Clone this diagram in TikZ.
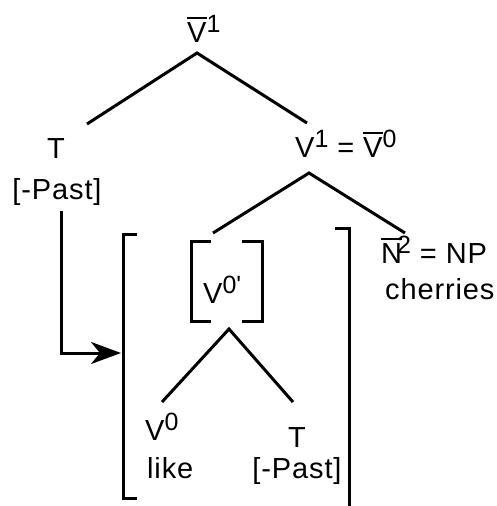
\documentclass[tikz,border=0pt]{standalone}
\usepackage{fontspec}
\setmainfont{Liberation Sans}[LetterSpace=3]
\usetikzlibrary{arrows.meta}
% bar over a category label
\newcommand\barred[1]{\setbox0\hbox{#1}\rlap{\rule[\dimexpr\ht0+3pt\relax]{\wd0}{2.5pt}}\box0}
% raised bar-level index
\newcommand\upidx[1]{\raisebox{10pt}{\fontsize{25}{25}\selectfont #1}}
\begin{document}
\begin{tikzpicture}[x=1pt,y=-1pt,
  every node/.style={inner sep=0pt,font=\fontsize{29}{32}\selectfont},
  lw/.style={anchor=base west},
  lc/.style={anchor=base},
  branch/.style={line width=3pt},
  brk/.style={line width=3pt},
  movearrow/.style={line width=3pt,-{Stealth[length=30pt,width=22pt,inset=9pt]}}]
\useasboundingbox (0,0) rectangle (496,506);

% labels
\node[lw] (vbar1) at (187,42) {\barred{V}\upidx{1}};
\node[lc] (tTop) at (56,158) {T};
\node[lc] (pastTop) at (57,199) {[-Past]};
\node[lw] (v1) at (295,157) {V\upidx{1} = \barred{V}\upidx{0}};
\node[lw] (nbar2) at (381,263) {\barred{N}\kern-5pt\upidx{2} = NP};
\node[lw] (cherries) at (385,299) {cherries};
\node[lw] (v0p) at (203,303) {V\upidx{0\textquotesingle}};
\node[lw] (v0) at (145,440) {V\upidx{0}};
\node[lw] (like) at (147,478) {like};
\node[lc] (tLow) at (297,447) {T};
\node[lc] (pastLow) at (297,478) {[-Past]};

% branching points and branch ends
\coordinate (top) at (197,53);
\coordinate (topL) at (87,124);
\coordinate (topR) at (307,123);
\coordinate (mid) at (309,173);
\coordinate (midL) at (213,233);
\coordinate (midR) at (405,233);
\coordinate (low) at (229,329);
\coordinate (lowL) at (162,402);
\coordinate (lowR) at (293,402);

\draw[branch] (topL) -- (top) -- (topR);
\draw[branch] (midL) -- (mid) -- (midR);
\draw[branch] (lowL) -- (low) -- (lowR);

% brackets
\draw[brk] (137,234) -- (123,234) -- (123,498) -- (137,498);
\draw[brk] (335,228) -- (349,228) -- (349,510);
\draw[brk] (211,241) -- (191,241) -- (191,321) -- (211,321);
\draw[brk] (242,241) -- (262,241) -- (262,321) -- (242,321);

% feature lowering arrow
\coordinate (arrStart) at (61,211);
\coordinate (arrEnd) at (121,353);
\draw[movearrow] (arrStart) |- (arrEnd);
\end{tikzpicture}
\end{document}
